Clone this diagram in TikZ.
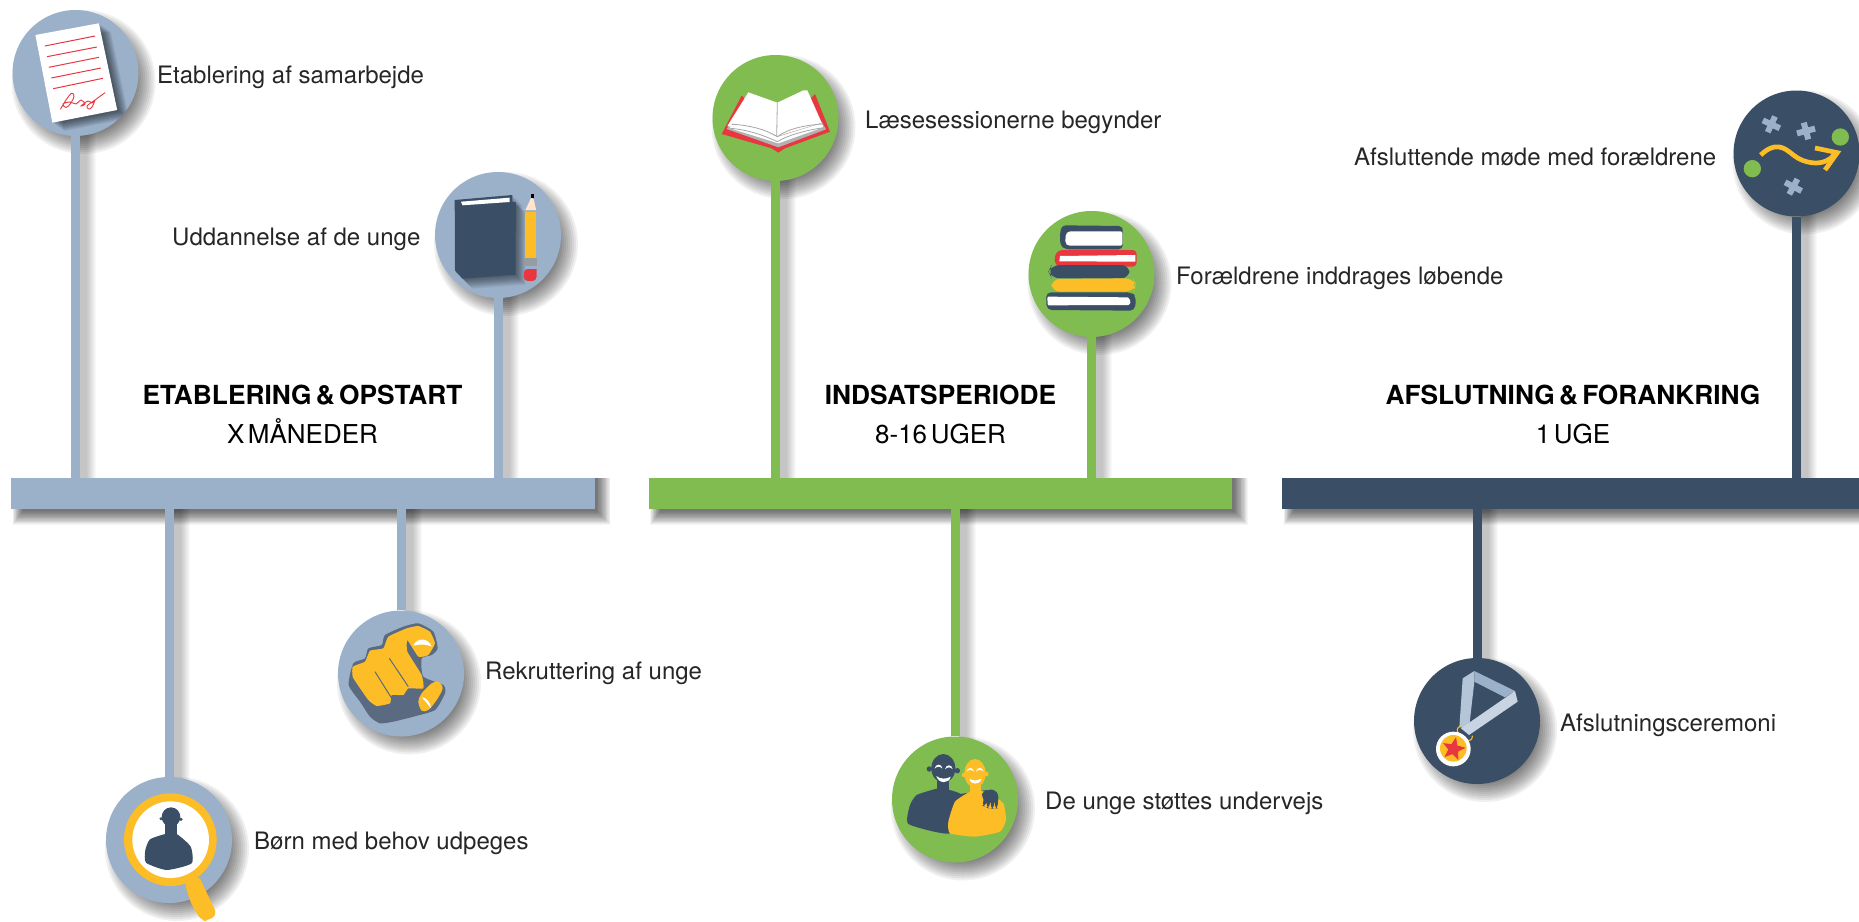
\documentclass[tikz,border=0pt]{standalone}
\usepackage{fontspec}
\setmainfont{TeX Gyre Heros}
\usetikzlibrary{shapes.geometric,backgrounds}
\definecolor{steel}{HTML}{9BB1CA}
\definecolor{grass}{HTML}{80BC50}
\definecolor{navy}{HTML}{3A4F66}
\definecolor{sun}{HTML}{FDBD27}
\definecolor{rose}{HTML}{E8373F}
\definecolor{slate}{HTML}{5A6A80}
\definecolor{ink}{HTML}{262626}
\tikzset{
  disc/.style={circle,fill=#1,inner sep=0pt,minimum size=126pt},
  barbox/.style={rectangle,fill=#1,inner sep=0pt,minimum height=31pt},
  polestyle/.style={draw=#1,line width=9pt},
  lbl/.style={anchor=base west,inner sep=0pt,text=ink,font=\fontsize{24}{28}\selectfont},
  headbold/.style={anchor=base,inner sep=0pt,text=black,font=\fontsize{26.3}{30}\selectfont\bfseries,execute at begin node={\spaceskip=4.3pt\relax}},
  headsub/.style={anchor=base,inner sep=0pt,text=black,font=\fontsize{26}{30}\selectfont,execute at begin node={\spaceskip=3.6pt\relax}},
  zoomed/.style 2 args={shift={(#1,#2)},scale=0.33333},
  softlayer/.style={black,opacity=.055},
}
\newcommand{\circshadow}[1]{\foreach \r in {48,50,...,72}{\fill[black,opacity=.058] ([shift={(8,9)}]#1.center) circle[radius=\r];}}
\newcommand{\poleshadow}[2]{\foreach \k in {7,...,16}{\fill[black,opacity=.022] ([xshift=4pt]#1.center) rectangle ([xshift={(4.5+\k)*1pt}]#1.center |- #2.center);}}
\newcommand{\barshadow}[1]{\foreach \k in {0,...,17}{\fill[black,opacity=.04] ([shift={(12-\k*.6,0)}]#1.north west) rectangle ([shift={(2+\k*.8,2+\k*.8)}]#1.south east);}}
\begin{document}
\begin{tikzpicture}[x=1pt,y=-1pt]
\useasboundingbox (0,0) rectangle (1859,921);
\pgfdeclarelayer{bgl}\pgfsetlayers{bgl,main}
% bars
\node[barbox=steel,minimum width=583.5pt] (bara) at (302.75,493.5) {};
\node[barbox=grass,minimum width=583.5pt] (barb) at (940.25,493.5) {};
\node[barbox=navy,minimum width=577pt] (barc) at (1570.5,493.5) {};
% discs
\node[disc=steel] (cpaper) at (75.5,73) {};
\node[disc=steel] (cstudy) at (498,235) {};
\node[disc=steel] (cpoint) at (401,673.5) {};
\node[disc=steel] (cseek) at (169,840) {};
\node[disc=grass] (cread) at (775.5,118) {};
\node[disc=grass] (cstack) at (1091.5,274) {};
\node[disc=grass] (cpair) at (955,799.5) {};
\node[disc=navy] (cplan) at (1796.5,153.5) {};
\node[disc=navy] (cmedal) at (1477,721) {};
\begin{pgfonlayer}{bgl}
\fill[white] (0,0) rectangle (1859,921);
\foreach \b in {bara,barb,barc}{\barshadow{\b}}
\poleshadow{cpaper}{bara}\poleshadow{cstudy}{bara}\poleshadow{cpoint}{bara}\poleshadow{cseek}{bara}
\poleshadow{cread}{barb}\poleshadow{cstack}{barb}\poleshadow{cpair}{barb}
\poleshadow{cplan}{barc}\poleshadow{cmedal}{barc}
\foreach \c in {cpaper,cstudy,cpoint,cseek,cread,cstack,cpair,cplan,cmedal}{\circshadow{\c}}
\draw[polestyle=steel] (cpaper.south) -- (cpaper.south |- bara.north);
\draw[polestyle=steel] (cstudy.south) -- (cstudy.south |- bara.north);
\draw[polestyle=steel] (cpoint.north) -- (cpoint.north |- bara.south);
\draw[polestyle=steel] (cseek.north) -- (cseek.north |- bara.south);
\draw[polestyle=grass] (cread.south) -- (cread.south |- barb.north);
\draw[polestyle=grass] (cstack.south) -- (cstack.south |- barb.north);
\draw[polestyle=grass] (cpair.north) -- (cpair.north |- barb.south);
\draw[polestyle=navy] (cplan.south) -- (cplan.south |- barc.north);
\draw[polestyle=navy] (cmedal.north) -- (cmedal.north |- barc.south);
\end{pgfonlayer}
% --- paper icon
\def\paperpath{(35.4,35) -- (98.9,23.3) -- (117.2,110) -- (52.4,122.7) -- cycle}
\begin{scope}
\clip (cpaper.center) circle[radius=63];
\foreach \k in {1,...,12}{\fill[softlayer,shift={(\k,\k*.7)}] \paperpath;}
\end{scope}
\fill[white] \paperpath;
\foreach \a/\b/\c/\d in {44.9/46/95/36,46.9/56.7/96.9/47,48.9/67.3/98.9/57.3,51.3/78/101/68,53.2/88.7/102.9/78.3}{\draw[rose,line width=1pt] (\a,\b) -- (\c,\d);}
\draw[rose,line width=.9pt] plot[smooth,tension=.6] coordinates {(60.4,109.3)(66,100)(71.5,93.3)(74,96)(71,103)(66,107.5)(63,104)(70,102)(76,104)(81,100)(85,104)(81,106)(88,101)(92,103)(95,100)(92,107)(89,109)(87,106)(95,100)(105,92.7)};
% --- study icon
\begin{scope}[xshift=-3pt]
\def\bookpath{(457.7,200) -- (515.3,195) -- (515.3,201.7) -- (518.9,202.3) -- (518.5,274.7) -- (465.6,278.7) -- (458,270.7) -- cycle}
\begin{scope}
\clip (501,235) circle[radius=63];
\foreach \k in {1,...,10}{\fill[softlayer,shift={(\k,\k)}] \bookpath;}
\end{scope}
\fill[navy] \bookpath;
\fill[white] (464,201.7) -- (512.5,197.7) -- (512.5,202) -- (465.6,205.3) -- cycle;
\fill[black] (533.6,194) rectangle (536.7,199);
\fill[orange!20!white] (528.4,210) -- (534,198) -- (536.5,198) -- (539.1,210) -- cycle;
\fill[sun] (528,212) rectangle (539,258);
\fill[gray!70!navy!70!white] (526.8,258.3) rectangle (539.5,266);
\fill[rose] (526.8,269) -- (539.5,269) -- (539.5,276) [rounded corners=4pt] -- (539.5,281) -- (526.8,281) -- cycle;
\end{scope}
% --- pointing hand
\begin{scope}[zoomed={60}{580}]
\fill[slate] plot[smooth cycle,tension=.35] coordinates {(866,315)(880,250)(915,235)(925,205)(965,195)(975,165)(1030,140)(1075,130)(1120,155)(1133,205)(1115,225)(1085,235)(1090,290)(1150,315)(1155,340)(1125,390)(1060,410)(1000,425)(960,430)(930,410)(900,365)};
\fill[sun] plot[smooth cycle,tension=.25] coordinates {(878,260)(915,245)(930,212)(970,205)(985,170)(1040,145)(1075,138)(1110,155)(1125,190)(1105,225)(1075,230)(1042,180)(1042,215)(1085,285)(1090,325)(1045,325)(1030,345)(995,345)(990,370)(950,378)(925,360)(890,310)(878,290)};
\fill[white] (1060,197) .. controls (1070,172) and (1105,172) .. (1115,200) .. controls (1100,192) and (1080,192) .. (1060,197) -- cycle;
\fill[sun] plot[smooth cycle,tension=.5] coordinates {(1075,365)(1085,340)(1115,310)(1135,305)(1148,325)(1130,360)(1105,390)(1085,392)};
\fill[white] (1085,352) .. controls (1100,352) and (1112,368) .. (1113,385) .. controls (1105,375) and (1095,362) .. (1085,352) -- cycle;
\draw[slate,line width=1pt] (945,275) -- (995,355) (988,235) -- (1045,320);
\end{scope}
% --- magnifier
\begin{scope}[zoomed={60}{580}]
\fill[sun,rounded corners=6pt] (372,905) -- (415,885) -- (472,1005) -- (440,1023) -- (425,1023) -- (395,975) -- cycle;
\fill[sun] (331,779) circle[radius=139];
\fill[white] (332,779) circle[radius=115];
\clip (332,779) circle[radius=115];
\fill[navy] (333,711) ellipse[x radius=28,y radius=29];
\fill[navy] (303,716) circle[radius=5] (363,718) circle[radius=5];
\fill[navy] (316,730) rectangle (350,775);
\fill[navy] plot[smooth cycle,tension=.35] coordinates {(316,762)(270,778)(256,810)(258,848)(320,870)(395,850)(392,800)(350,762)};
\end{scope}
% --- open book
\begin{scope}[zoomed={690}{30}]
\fill[rose,line join=round] (95,312) -- (155,197) -- (175,215) -- (265,340) -- (362,205) -- (375,192) -- (420,305) -- (285,355) -- (265,368) -- (245,355) -- cycle;
\fill[gray!60] (110,297) -- (125,275) -- (265,320) -- (395,275) -- (408,298) -- (265,352) -- cycle;
\fill[white] (112,288) -- (175,187) -- (262,218) -- (340,181) -- (352,181) -- (395,278) -- (265,318) -- cycle;
\fill[white] (120,295) -- (265,340) -- (400,292) -- (395,280) -- (265,320) -- (125,280) -- cycle;
\draw[gray!70,line width=.8pt] (262,218) -- (260,318);
\draw[gray!70,line width=.8pt] (125,283) .. controls (180,285) and (230,300) .. (262,320) .. controls (295,295) and (350,285) .. (398,282);
\draw[gray!70,line width=.8pt] (122,295) .. controls (180,300) and (230,320) .. (262,335) .. controls (295,315) and (350,300) .. (402,293);
\end{scope}
% --- book stack
\begin{scope}[zoomed={690}{30}]
\begin{scope}
\clip (cstack.center) circle[radius=63];
\foreach \k in {1,...,12}{\fill[softlayer,shift={(\k*.5,\k*2.5)}] (1070,800) rectangle (1338,842);}
\end{scope}
\fill[navy,rounded corners=4pt] (1115,586) -- (1298,588) -- (1298,603) -- (1298,658) -- (1125,658) -- (1110,645) -- (1110,610) -- cycle;
\fill[white,rounded corners=2pt] (1135,604) -- (1297,604) -- (1297,647) -- (1133,647) -- (1126,640) -- (1127,612) -- cycle;
\fill[rose,rounded corners=4pt] (1340,660) -- (1105,660) -- (1092,680) -- (1097,708) -- (1340,710) -- cycle;
\fill[white] (1110,678) -- (1336,675) -- (1336,695) -- (1108,694) -- cycle;
\fill[navy,rounded corners=8pt] (1318,705) -- (1085,705) -- (1075,725) -- (1085,745) -- (1318,745) -- cycle;
\fill[sun,rounded corners=8pt] (1085,747) -- (1330,745) -- (1338,765) -- (1330,785) -- (1085,785) -- cycle;
\fill[navy,rounded corners=5pt] (1068,787) -- (1325,787) -- (1338,800) -- (1335,842) -- (1070,840) -- cycle;
\fill[white,rounded corners=1pt] (1072,800) -- (1315,802) -- (1322,815) -- (1318,825) -- (1073,826) -- cycle;
\end{scope}
% --- pair of young people
\begin{scope}[zoomed={860}{700}]
\fill[navy] (250,205) ellipse[x radius=36,y radius=43];
\fill[navy] (208,207) circle[radius=8] (292,212) circle[radius=8];
\fill[navy] (230,240) rectangle (266,280);
\fill[navy] plot[smooth cycle,tension=.3] coordinates {(230,266)(170,285)(150,315)(145,372)(270,400)(310,290)(262,268)};
\fill[navy] (280,285) -- (380,270) -- (385,295) -- (300,320) -- cycle;
\fill[white] (224,206) .. controls (226,190) and (246,190) .. (247,206) .. controls (240,198) and (232,198) .. (224,206) -- cycle;
\fill[white] (255,208) .. controls (258,192) and (276,192) .. (278,208) .. controls (272,200) and (262,200) .. (255,208) -- cycle;
\fill[white] (229,228) .. controls (240,238) and (260,238) .. (272,230) .. controls (268,252) and (235,252) .. (229,228) -- cycle;
\fill[sun] (345,220) ellipse[x radius=32,y radius=43];
\fill[sun] (312,225) circle[radius=7] (379,222) circle[radius=7];
\fill[sun] (330,250) rectangle (362,290);
\fill[sun] plot[smooth cycle,tension=.3] coordinates {(330,275)(285,305)(265,365)(270,400)(345,410)(420,395)(438,360)(430,310)(395,285)(362,272)};
\fill[white] (320,215) .. controls (322,200) and (340,200) .. (342,215) .. controls (336,208) and (326,208) .. (320,215) -- cycle;
\fill[white] (348,215) .. controls (350,200) and (368,200) .. (370,215) .. controls (364,208) and (354,208) .. (348,215) -- cycle;
\fill[white] (328,236) .. controls (338,243) and (352,243) .. (364,236) .. controls (360,256) and (332,256) .. (328,236) -- cycle;
\fill[navy,rounded corners=3pt] (362,282) -- (385,268) -- (405,270) -- (416,285) -- (412,325) -- (406,325) -- (403,300) -- (400,327) -- (393,325) -- (392,300) -- (386,325) -- (380,322) -- (381,303) -- (374,320) -- (367,316) -- (372,296) -- cycle;
\end{scope}
% --- plan icon
\begin{scope}[zoomed={1700}{70}]
\fill[grass] (421,201) circle[radius=26] (157,296) circle[radius=26];
\foreach \p/\a in {(214,163)/-25,(318,183)/15,(280,350)/-28}{
 \fill[steel,shift={\p},rotate=\a] (-28,-9) rectangle (28,9) (-9,-26) rectangle (9,26);}
\draw[sun,line width=4.7pt] (182,255) .. controls (225,215) and (250,230) .. (280,255) .. controls (310,280) and (375,295) .. (405,250);
\draw[sun,line width=4.7pt] (345,234) -- (412,248) -- (375,300);
\end{scope}
% --- medal icon
\begin{scope}[zoomed={1390}{640}]
\fill[steel!75!white] (218,115) -- (253,93) -- (253,125) -- (237,265) -- (208,262) -- cycle;
\fill[steel] (253,93) -- (375,153) -- (345,172) -- (253,125) -- cycle;
\fill[steel!55!white] (375,153) -- (383,185) -- (237,285) -- (213,265) -- cycle;
\draw[sun,line width=1.1pt] (212,258) .. controls (200,262) and (198,275) .. (208,282);
\draw[sun,line width=1.1pt] (247,287) .. controls (248,298) and (240,305) .. (228,300);
\fill[white] (190,327) ellipse[x radius=52,y radius=52];
\fill[sun] (190,325) circle[radius=40];
\end{scope}
\node[star,star points=5,star point ratio=2.3,fill=rose,inner sep=0pt,minimum size=24pt,rotate=-12] (medalstar) at (1453.5,749) {};
% --- labels
\node[lbl] (t1) at (157,83) {Etablering af samarbejde};
\node[lbl] (t2) at (172,245) {Uddannelse af de unge};
\node[lbl] (t3) at (485,679) {Rekruttering af unge};
\node[lbl] (t4) at (254,849) {Børn med behov udpeges};
\node[lbl] (t5) at (865,128) {Læsesessionerne begynder};
\node[lbl] (t6) at (1176,284) {Forældrene inddrages løbende};
\node[lbl] (t7) at (1045,809) {De unge støttes undervejs};
\node[lbl] (t8) at (1354,165) {Afsluttende møde med forældrene};
\node[lbl] (t9) at (1560,731) {Afslutningsceremoni};
\node[headbold] (h1) at (302.5,404) {ETABLERING \& OPSTART};
\node[headsub] (s1) at (302.5,443) {X MÅNEDER};
\node[headbold] (h2) at (940.5,404) {INDSATSPERIODE};
\node[headsub] (s2) at (940.5,443) {8-16 UGER};
\node[headbold] (h3) at (1573,404) {AFSLUTNING \& FORANKRING};
\node[headsub] (s3) at (1573,443) {1 UGE};
\end{tikzpicture}
\end{document}
